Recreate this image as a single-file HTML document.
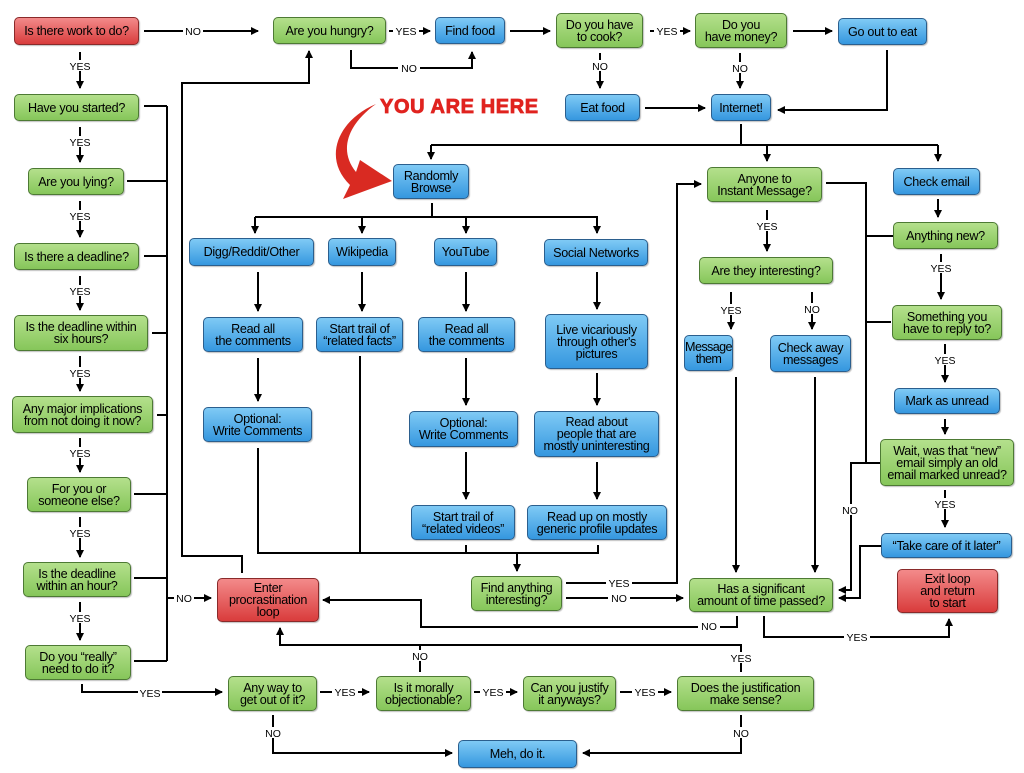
<!DOCTYPE html>
<html><head><meta charset="utf-8"><style>
body{margin:0;width:1024px;height:773px;background:#fff;position:relative;overflow:hidden;font-family:"Liberation Sans",sans-serif}
.b{position:absolute;box-sizing:border-box;border:1px solid #3c5a2a;border-radius:5px;display:flex;align-items:center;justify-content:center;text-align:center;font-size:12.6px;line-height:12px;color:#000;letter-spacing:-0.3px;box-shadow:1px 1px 1px rgba(0,0,0,.25);white-space:nowrap}
.g{background:linear-gradient(#b4e08c,#86c65a);border-color:#4d7a34}
.u{background:linear-gradient(#7fcaf5,#3597df);border-color:#2b5f8e}
.r{background:linear-gradient(#f38a8a,#d93c3c);border-color:#8a2a2a}
svg{position:absolute;left:0;top:0}
.l{font-size:10.5px;font-family:"Liberation Sans",sans-serif}
</style></head><body>
<svg width="1024" height="773" viewBox="0 0 1024 773">
<defs><marker id="a" markerWidth="8" markerHeight="8" refX="7" refY="4" orient="auto" markerUnits="userSpaceOnUse"><path d="M0,0 L8,4 L0,8z" fill="#000"/></marker></defs>
<g stroke="#000" stroke-width="2" fill="none">
<path d="M144,31H258" marker-end="url(#a)"/>
<path d="M80,52V88" marker-end="url(#a)"/><path d="M80,127V162" marker-end="url(#a)"/><path d="M80,201V237" marker-end="url(#a)"/><path d="M80,276V310" marker-end="url(#a)"/><path d="M80,356V391" marker-end="url(#a)"/><path d="M80,438V472" marker-end="url(#a)"/><path d="M80,517V557" marker-end="url(#a)"/><path d="M80,602V640" marker-end="url(#a)"/>
<path d="M144,106H167M127,181H167M144,256H167M152,333H167M157,415H167M134,494H167M134,578H167M134,661H167M167,106V661"/>
<path d="M167,598H211" marker-end="url(#a)"/>
<path d="M82,684V692H222" marker-end="url(#a)"/>
<path d="M389,31H430" marker-end="url(#a)"/>
<path d="M351,50V68H472V52" marker-end="url(#a)"/>
<path d="M510,31H550" marker-end="url(#a)"/><path d="M650,31H690" marker-end="url(#a)"/><path d="M793,31H832" marker-end="url(#a)"/>
<path d="M600,53V88" marker-end="url(#a)"/><path d="M740,53V88" marker-end="url(#a)"/>
<path d="M645,108H705" marker-end="url(#a)"/>
<path d="M887,50V110H778" marker-end="url(#a)"/>
<path d="M741,124V145M431,145H938"/><path d="M431,145V159" marker-end="url(#a)"/><path d="M767,145V161" marker-end="url(#a)"/><path d="M938,145V161" marker-end="url(#a)"/>
<path d="M432,203V217M255,217H598"/><path d="M255,217V233" marker-end="url(#a)"/><path d="M362,217V233" marker-end="url(#a)"/><path d="M466,217V233" marker-end="url(#a)"/><path d="M597,217V233" marker-end="url(#a)"/>
<path d="M258,272V311" marker-end="url(#a)"/><path d="M362,272V311" marker-end="url(#a)"/><path d="M466,272V311" marker-end="url(#a)"/><path d="M597,272V309" marker-end="url(#a)"/>
<path d="M258,358V401" marker-end="url(#a)"/><path d="M466,358V405" marker-end="url(#a)"/><path d="M466,452V499" marker-end="url(#a)"/><path d="M597,373V405" marker-end="url(#a)"/><path d="M597,462V499" marker-end="url(#a)"/>
<path d="M258,448V553H598V545M360,356V553M466,545V553"/>
<path d="M517,553V571" marker-end="url(#a)"/>
<path d="M242,573V556H182V83H309V51" marker-end="url(#a)"/>
<path d="M566,583H677V184H701" marker-end="url(#a)"/>
<path d="M566,598H683" marker-end="url(#a)"/>
<path d="M737,616V627H421V600H323" marker-end="url(#a)"/>
<path d="M764,616V637H949V619" marker-end="url(#a)"/>
<path d="M767,210V251" marker-end="url(#a)"/><path d="M731,292V329" marker-end="url(#a)"/><path d="M812,292V329" marker-end="url(#a)"/>
<path d="M736,377V572" marker-end="url(#a)"/><path d="M815,377V572" marker-end="url(#a)"/>
<path d="M826,183H866V463M893,236H866M891,322H866M880,463H851V590H839" marker-end="url(#a)"/>
<path d="M881,546H860V598H839" marker-end="url(#a)"/>
<path d="M938,199V217" marker-end="url(#a)"/><path d="M941,254V299" marker-end="url(#a)"/><path d="M945,344V382" marker-end="url(#a)"/><path d="M945,419V434" marker-end="url(#a)"/><path d="M945,490V527" marker-end="url(#a)"/>
<path d="M320,692H369" marker-end="url(#a)"/><path d="M474,692H517" marker-end="url(#a)"/><path d="M620,692H671" marker-end="url(#a)"/>
<path d="M741,672V645H280V628" marker-end="url(#a)"/><path d="M420,672V645"/>
<path d="M273,715V753H452" marker-end="url(#a)"/><path d="M741,715V753H583" marker-end="url(#a)"/>
</g>
<g class="l" text-anchor="middle" fill="#000">
<g fill="#fff"><rect x="183" y="25" width="20" height="11"/><rect x="68" y="60" width="24" height="11"/><rect x="68" y="136" width="24" height="11"/><rect x="68" y="210" width="24" height="11"/><rect x="68" y="285" width="24" height="11"/><rect x="68" y="367" width="24" height="11"/><rect x="68" y="447" width="24" height="11"/><rect x="68" y="527" width="24" height="11"/><rect x="68" y="612" width="24" height="11"/><rect x="174" y="592" width="20" height="11"/><rect x="138" y="687" width="24" height="11"/><rect x="393" y="25" width="26" height="11"/><rect x="398" y="62" width="22" height="11"/><rect x="654" y="25" width="26" height="11"/><rect x="590" y="60" width="20" height="11"/><rect x="730" y="62" width="20" height="11"/><rect x="606" y="577" width="26" height="11"/><rect x="608" y="592" width="22" height="11"/><rect x="698" y="620" width="22" height="11"/><rect x="844" y="631" width="26" height="11"/><rect x="755" y="220" width="24" height="11"/><rect x="719" y="304" width="24" height="11"/><rect x="802" y="303" width="20" height="11"/><rect x="840" y="504" width="20" height="11"/><rect x="929" y="262" width="24" height="11"/><rect x="933" y="354" width="24" height="11"/><rect x="933" y="498" width="24" height="11"/><rect x="332" y="686" width="26" height="11"/><rect x="480" y="686" width="26" height="11"/><rect x="632" y="686" width="26" height="11"/><rect x="410" y="650" width="20" height="11"/><rect x="729" y="652" width="24" height="11"/><rect x="263" y="727" width="20" height="11"/><rect x="731" y="727" width="20" height="11"/></g>
<text x="193" y="35">NO</text><text x="80" y="70">YES</text><text x="80" y="146">YES</text><text x="80" y="220">YES</text><text x="80" y="295">YES</text><text x="80" y="377">YES</text><text x="80" y="457">YES</text><text x="80" y="537">YES</text><text x="80" y="622">YES</text><text x="184" y="602">NO</text><text x="150" y="697">YES</text><text x="406" y="35">YES</text><text x="409" y="72">NO</text><text x="667" y="35">YES</text><text x="600" y="70">NO</text><text x="740" y="72">NO</text><text x="619" y="587">YES</text><text x="619" y="602">NO</text><text x="709" y="630">NO</text><text x="857" y="641">YES</text><text x="767" y="230">YES</text><text x="731" y="314">YES</text><text x="812" y="313">NO</text><text x="850" y="514">NO</text><text x="941" y="272">YES</text><text x="945" y="364">YES</text><text x="945" y="508">YES</text><text x="345" y="696">YES</text><text x="493" y="696">YES</text><text x="645" y="696">YES</text><text x="420" y="660">NO</text><text x="741" y="662">YES</text><text x="273" y="737">NO</text><text x="741" y="737">NO</text>
</g>
<text x="380" y="113" font-family="Liberation Sans" font-weight="bold" font-size="20" letter-spacing="0.6" fill="#e0231f" stroke="#e0231f" stroke-width="0.8">YOU ARE HERE</text>
<path d="M376,104 C338,120 322,158 350,185 L343,199 L392,181 L360,160 L356,172 C338,150 348,124 376,104z" fill="#d92a22"/>
</svg>
<div class="b r" style="left:14px;top:17px;width:125px;height:28px">Is there work to do?</div>
<div class="b g" style="left:14px;top:94px;width:125px;height:27px">Have you started?</div>
<div class="b g" style="left:28px;top:168px;width:96px;height:27px">Are you lying?</div>
<div class="b g" style="left:14px;top:243px;width:125px;height:27px">Is there a deadline?</div>
<div class="b g" style="left:14px;top:315px;width:134px;height:36px">Is the deadline within<br>six hours?</div>
<div class="b g" style="left:12px;top:396px;width:141px;height:37px">Any major implications<br>from not doing it now?</div>
<div class="b g" style="left:27px;top:477px;width:104px;height:35px">For you or<br>someone else?</div>
<div class="b g" style="left:23px;top:562px;width:108px;height:35px">Is the deadline<br>within an hour?</div>
<div class="b g" style="left:25px;top:645px;width:106px;height:35px">Do you “really”<br>need to do it?</div>
<div class="b r" style="left:217px;top:578px;width:102px;height:44px">Enter<br>procrastination<br>loop</div>
<div class="b g" style="left:273px;top:17px;width:113px;height:27px">Are you hungry?</div>
<div class="b u" style="left:435px;top:17px;width:70px;height:27px">Find food</div>
<div class="b g" style="left:556px;top:13px;width:87px;height:35px">Do you have<br>to cook?</div>
<div class="b g" style="left:695px;top:13px;width:92px;height:35px">Do you<br>have money?</div>
<div class="b u" style="left:838px;top:18px;width:89px;height:27px">Go out to eat</div>
<div class="b u" style="left:565px;top:94px;width:75px;height:27px">Eat food</div>
<div class="b u" style="left:711px;top:94px;width:60px;height:27px">Internet!</div>
<div class="b u" style="left:393px;top:164px;width:76px;height:35px">Randomly<br>Browse</div>
<div class="b u" style="left:189px;top:238px;width:125px;height:28px">Digg/Reddit/Other</div>
<div class="b u" style="left:328px;top:238px;width:68px;height:28px">Wikipedia</div>
<div class="b u" style="left:434px;top:238px;width:63px;height:28px">YouTube</div>
<div class="b u" style="left:544px;top:239px;width:104px;height:27px">Social Networks</div>
<div class="b u" style="left:203px;top:317px;width:100px;height:35px">Read all<br>the comments</div>
<div class="b u" style="left:316px;top:317px;width:87px;height:35px">Start trail of<br>“related facts”</div>
<div class="b u" style="left:418px;top:317px;width:97px;height:35px">Read all<br>the comments</div>
<div class="b u" style="left:545px;top:314px;width:103px;height:55px">Live vicariously<br>through other's<br>pictures</div>
<div class="b u" style="left:203px;top:407px;width:109px;height:35px">Optional:<br>Write Comments</div>
<div class="b u" style="left:409px;top:411px;width:109px;height:36px">Optional:<br>Write Comments</div>
<div class="b u" style="left:534px;top:411px;width:125px;height:46px">Read about<br>people that are<br>mostly uninteresting</div>
<div class="b u" style="left:411px;top:505px;width:104px;height:35px">Start trail of<br>“related videos”</div>
<div class="b u" style="left:527px;top:505px;width:140px;height:35px">Read up on mostly<br>generic profile updates</div>
<div class="b g" style="left:471px;top:576px;width:91px;height:35px">Find anything<br>interesting?</div>
<div class="b g" style="left:689px;top:578px;width:144px;height:34px">Has a significant<br>amount of time passed?</div>
<div class="b g" style="left:707px;top:167px;width:115px;height:35px">Anyone to<br>Instant Message?</div>
<div class="b g" style="left:699px;top:257px;width:134px;height:27px">Are they interesting?</div>
<div class="b u" style="left:684px;top:335px;width:49px;height:36px;letter-spacing:-0.6px">Message<br>them</div>
<div class="b u" style="left:770px;top:335px;width:81px;height:37px">Check away<br>messages</div>
<div class="b u" style="left:893px;top:168px;width:87px;height:27px">Check email</div>
<div class="b g" style="left:893px;top:222px;width:105px;height:27px">Anything new?</div>
<div class="b g" style="left:892px;top:305px;width:110px;height:35px">Something you<br>have to reply to?</div>
<div class="b u" style="left:894px;top:388px;width:106px;height:26px">Mark as unread</div>
<div class="b g" style="left:880px;top:439px;width:134px;height:47px">Wait, was that “new”<br>email simply an old<br>email marked unread?</div>
<div class="b u" style="left:881px;top:533px;width:131px;height:25px">“Take care of it later”</div>
<div class="b r" style="left:897px;top:569px;width:101px;height:44px">Exit loop<br>and return<br>to start</div>
<div class="b g" style="left:228px;top:676px;width:89px;height:35px">Any way to<br>get out of it?</div>
<div class="b g" style="left:376px;top:676px;width:95px;height:35px">Is it morally<br>objectionable?</div>
<div class="b g" style="left:523px;top:676px;width:93px;height:35px">Can you justify<br>it anyways?</div>
<div class="b g" style="left:677px;top:676px;width:137px;height:35px">Does the justification<br>make sense?</div>
<div class="b u" style="left:458px;top:740px;width:119px;height:28px">Meh, do it.</div>
</body></html>
